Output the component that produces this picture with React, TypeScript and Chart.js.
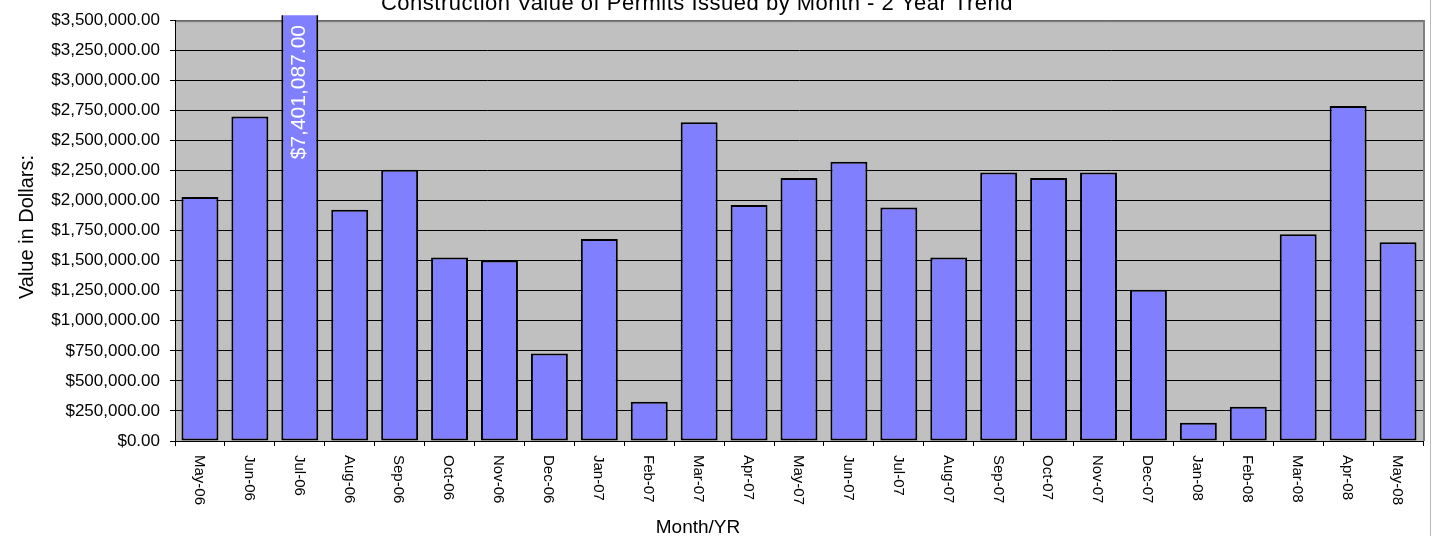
import React, { useEffect, useRef } from 'react';
import { Chart, registerables } from 'chart.js';

Chart.register(...registerables);

const FONT = "'Liberation Sans', Arial, sans-serif";

const chartTitle = 'Construction Value of Permits Issued by Month - 2 Year Trend';
const xAxisTitle = 'Month/YR';
const yAxisTitle = 'Value in Dollars:';

const categories = [
  'May-06', 'Jun-06', 'Jul-06', 'Aug-06', 'Sep-06', 'Oct-06', 'Nov-06', 'Dec-06',
  'Jan-07', 'Feb-07', 'Mar-07', 'Apr-07', 'May-07', 'Jun-07', 'Jul-07', 'Aug-07',
  'Sep-07', 'Oct-07', 'Nov-07', 'Dec-07', 'Jan-08', 'Feb-08', 'Mar-08', 'Apr-08', 'May-08',
];

const permitValues = [
  2029000, 2698000, 7401087, 1924000, 2256000, 1526000, 1501000, 727000,
  1681000, 326000, 2651000, 1963000, 2188000, 2322000, 1943000, 1526000,
  2234000, 2187000, 2234000, 1258000, 152000, 284000, 1720000, 2787000, 1653000,
];

const yMin = 0;
const yMax = 3500000;
const yStep = 250000;

// index of the bar that carries a value label
const labelledIndex = 2;

const fmt = (v: number) =>
  '$' + Number(v).toLocaleString('en-US', { minimumFractionDigits: 2, maximumFractionDigits: 2 });

export default function App() {
  const ref = useRef<HTMLCanvasElement>(null);

  useEffect(() => {
    const canvas = ref.current!;

    const overlay = {
      id: 'overlay',
      beforeDraw(chart: any) {
        const { ctx, chartArea: a } = chart;
        ctx.save();
        ctx.fillStyle = '#ffffff';
        ctx.fillRect(0, 0, chart.width, chart.height);
        ctx.fillStyle = '#C0C0C0';
        ctx.fillRect(a.left, a.top, a.right - a.left, a.bottom - a.top);
        ctx.restore();
      },
      beforeDatasetsDraw(chart: any) {
        const { ctx, chartArea: a } = chart;
        ctx.save();
        ctx.fillStyle = '#808080';
        ctx.fillRect(a.left + 1, a.top, a.right - a.left + 1, 2);
        ctx.fillRect(a.right, a.top, 2, a.bottom - a.top);
        ctx.fillStyle = '#b8b8b8';
        ctx.fillRect(1430, 0, 1, chart.height);
        ctx.restore();
      },
      afterDraw(chart: any) {
        const { ctx } = chart;
        const xs = chart.scales.x;
        ctx.save();
        // x tick labels, rotated clockwise
        ctx.fillStyle = '#000';
        ctx.font = `15px ${FONT}`;
        categories.forEach((lab, i) => {
          const x = xs.getPixelForValue(i);
          ctx.save();
          ctx.translate(x - 1, 455);
          ctx.rotate(Math.PI / 2);
          ctx.textAlign = 'left';
          ctx.textBaseline = 'middle';
          ctx.fillText(lab, 0, 0);
          ctx.restore();
        });

        // value label inside the clipped bar
        const bar = chart.getDatasetMeta(0).data[labelledIndex];
        if (bar) {
          ctx.save();
          ctx.fillStyle = '#ffffff';
          ctx.font = `21px ${FONT}`;
          ctx.translate(bar.x + 5, 25);
          ctx.rotate(-Math.PI / 2);
          ctx.textAlign = 'right';
          ctx.textBaseline = 'alphabetic';
          ctx.fillText(fmt(permitValues[labelledIndex]), 0, 0);
          ctx.restore();
        }

        // y axis title
        ctx.save();
        ctx.fillStyle = '#000';
        ctx.font = `20px ${FONT}`;
        ctx.translate(33, 227);
        ctx.rotate(-Math.PI / 2);
        ctx.textAlign = 'center';
        ctx.textBaseline = 'alphabetic';
        ctx.fillText(yAxisTitle, 0, 0);
        ctx.restore();

        // x axis title
        ctx.fillStyle = '#000';
        ctx.font = `19px ${FONT}`;
        ctx.textAlign = 'center';
        ctx.textBaseline = 'alphabetic';
        ctx.fillText(xAxisTitle, 698, 533);

        // chart title (cut at top)
        ctx.font = `22px ${FONT}`;
        try { (ctx as any).letterSpacing = '0.5px'; } catch (e) {}
        ctx.fillText(chartTitle, 697, 10);
        try { (ctx as any).letterSpacing = '0px'; } catch (e) {}
        ctx.restore();
      },
    };

    const chart = new Chart(canvas, {
      type: 'bar',
      data: {
        labels: categories,
        datasets: [
          {
            data: permitValues,
            backgroundColor: '#8080FF',
            borderColor: '#000000',
            borderWidth: 2,
            borderSkipped: false,
            barPercentage: 0.74,
            categoryPercentage: 1,
            clip: { left: 0, top: 5, right: 0, bottom: 0 } as any,
          },
        ],
      },
      options: {
        animation: false,
        responsive: false,
        devicePixelRatio: 1,
        layout: { padding: { top: 19, right: 9, left: 0, bottom: 0 } },
        plugins: {
          legend: { display: false },
          title: { display: false },
          tooltip: { enabled: false },
        },
        scales: {
          x: {
            grid: {
              offset: true,
              drawOnChartArea: false,
              color: '#000',
              tickLength: 5,
            },
            ticks: { display: false },
            border: { color: '#000', width: 1 },
            afterFit(s: any) {
              s.height = 95;
            },
          },
          y: {
            min: yMin,
            max: yMax,
            ticks: {
              stepSize: yStep,
              autoSkip: false,
              callback: (v: any) => fmt(v),
              font: { size: 17, family: FONT },
              color: '#000',
              padding: 10,
            },
            grid: { color: '#000', lineWidth: 1, tickLength: 5 },
            border: { color: '#000', width: 1 },
            afterFit(s: any) {
              s.width = 175;
            },
          },
        },
      },
      plugins: [overlay],
    } as any);

    return () => chart.destroy();
  }, []);

  return (
    <div style={{ position: 'fixed', left: 0, top: 0, width: 1432, height: 536, background: '#fff' }}>
      <canvas ref={ref} width={1432} height={536} style={{ display: 'block', width: 1432, height: 536 }} />
    </div>
  );
}
